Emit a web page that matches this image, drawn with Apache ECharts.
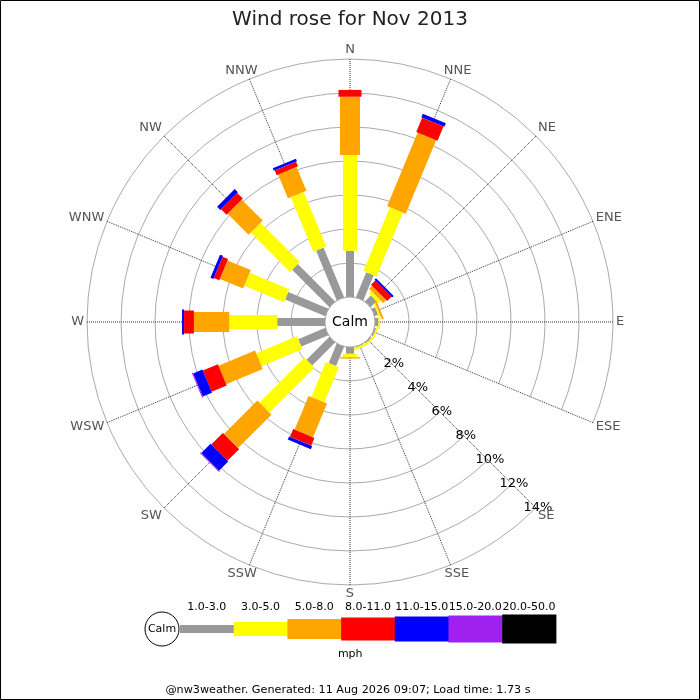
<!DOCTYPE html>
<html>
<head>
<meta charset="utf-8">
<script src="https://cdn.jsdelivr.net/npm/echarts@6/dist/echarts.min.js"></script>
<style>
html,body{margin:0;padding:0;background:#fff}
#c{width:700px;height:700px}
</style>
</head>
<body>
<div id="c"></div>
<script>
// ---- data ----
const titleText = 'Wind rose for Nov 2013';
const footerText = '@nw3weather. Generated: 11 Aug 2026 09:07; Load time: 1.73 s';
const directions = ['N','NNE','NE','ENE','E','ESE','SE','SSE','S','SSW','SW','WSW','W','WNW','NW','NNW'];
const speedClasses = ['1.0-3.0','3.0-5.0','5.0-8.0','8.0-11.0','11.0-15.0','15.0-20.0','20.0-50.0'];
const speedUnit = 'mph';
const calmLabel = 'Calm';
const pctMin = 0, pctMax = 14, pctStep = 2;   // radial tick labels 2%..14%

// percentage of time per direction for each speed class (order as directions)
const pct_1_3   = [2.72,1.60,0.50,0.22,0.20,0.10,0.08,0.05,0.40,1.24,1.91,1.73,2.81,2.56,3.11,3.17];
const pct_3_5   = [5.63,4.07,0.20,0.10,0.10,0.10,0.10,0.12,0.20,2.24,3.74,2.60,2.82,2.53,3.27,3.48];
const pct_5_8   = [3.43,4.68,0.25,0.12,0.00,0.00,0.00,0.00,0.08,2.15,2.78,2.33,2.08,1.48,1.74,1.51];
const pct_8_11  = [0.40,0.91,0.35,0.00,0.00,0.00,0.00,0.00,0.00,0.49,0.97,0.96,0.58,0.35,0.47,0.30];
const pct_11_15 = [0.00,0.23,0.13,0.00,0.00,0.00,0.00,0.00,0.00,0.20,0.76,0.59,0.12,0.19,0.26,0.16];
const pct_15_20 = [0.00,0.00,0.00,0.00,0.00,0.00,0.00,0.00,0.00,0.00,0.06,0.06,0.00,0.00,0.00,0.00];
const pct_20_50 = [0,0,0,0,0,0,0,0,0,0,0,0,0,0,0,0];
const classSeries = [pct_1_3,pct_3_5,pct_5_8,pct_8_11,pct_11_15,pct_15_20,pct_20_50];

// ---- styles ----
const classColors = ['#999999','#ffff00','#ffa500','#ff0000','#0000ff','#a020f0','#000000'];
const classWidths = [8,14,20,23,25,27,29];
const FONT = 'DejaVu Sans, Verdana, sans-serif';
const DIR_FONT = '13px ' + FONT;

// radius axis is drawn along the first angle category, so start the ring at SE
const axisStart = directions.indexOf('SE');
const angleCats = directions.slice(axisStart).concat(directions.slice(0, axisStart));
const angleIndexOf = i => (i - axisStart + directions.length) % directions.length;

const barData = [];
directions.forEach((d, i) => {
  let cum = 0;
  classSeries.forEach((arr, c) => {
    const v = arr[i];
    if (v > 0) barData.push([angleIndexOf(i), cum, cum + v, c]);
    cum += v;
  });
});
const dirLabelData = angleCats.map((d, k) => [k, pctMax, pctMax, 0]);

const measureCtx = document.createElement('canvas').getContext('2d');
measureCtx.font = DIR_FONT;

function renderBar(params, api) {
  const a = api.value(0), s = api.value(1), e = api.value(2), c = api.value(3);
  const p0 = api.coord([s, a]);
  const p1 = api.coord([e, a]);
  const dx = p1[0] - p0[0], dy = p1[1] - p0[1];
  const len = Math.hypot(dx, dy) || 1;
  const nx = -dy / len, ny = dx / len;
  const hw = classWidths[c] / 2;
  return {
    type: 'polygon',
    shape: { points: [
      [p0[0] + nx*hw, p0[1] + ny*hw],
      [p1[0] + nx*hw, p1[1] + ny*hw],
      [p1[0] - nx*hw, p1[1] - ny*hw],
      [p0[0] - nx*hw, p0[1] - ny*hw]
    ]},
    style: { fill: classColors[c] }
  };
}

function renderDirLabel(params, api) {
  const cs = params.coordSys;
  const k = api.value(0);
  const name = angleCats[k];
  const p = api.coord([pctMax, k]);
  const dx = p[0] - cs.cx, dy = p[1] - cs.cy;
  const len = Math.hypot(dx, dy) || 1;
  const ux = dx / len, uy = dy / len;
  const m = Math.max(Math.abs(ux), Math.abs(uy));
  const sx = ux / m, sy = uy / m;
  const w = measureCtx.measureText(name).width;
  const h = 12;
  const gap = 3;
  const x = p[0] + ux * gap + sx * w / 2;
  const y = p[1] + uy * gap + sy * h / 2;
  return { type: 'text', x: x, y: y,
    style: { text: name, fill: '#555', font: DIR_FONT, align: 'center', verticalAlign: 'middle' } };
}

function renderCalm(params, api) {
  const cs = params.coordSys;
  return {
    type: 'group',
    children: [
      { type: 'circle', shape: { cx: cs.cx, cy: cs.cy, r: cs.r0 },
        style: { fill: '#fff', stroke: '#aaa', lineWidth: 1 } },
      { type: 'text', x: cs.cx, y: cs.cy,
        style: { text: calmLabel, fill: '#000', font: '14px ' + FONT, align: 'center', verticalAlign: 'middle' } }
    ]
  };
}

// ---- legend (key) ----
const legendX0 = 180, legendSegW = 53.7, legendCY = 629;
const legendEls = [];
legendEls.push({ type: 'circle', shape: { cx: 162, cy: legendCY, r: 17 },
  style: { fill: '#fff', stroke: '#000', lineWidth: 1 } });
legendEls.push({ type: 'text', x: 162, y: legendCY,
  style: { text: calmLabel, fill: '#000', font: '11px ' + FONT, align: 'center', verticalAlign: 'middle' } });
speedClasses.forEach((lab, c) => {
  const x = legendX0 + c * legendSegW;
  legendEls.push({ type: 'rect', shape: { x: x, y: legendCY - classWidths[c]/2, width: legendSegW + 0.5, height: classWidths[c] },
    style: { fill: classColors[c] } });
  legendEls.push({ type: 'text', x: x + legendSegW/2, y: 607.5,
    style: { text: lab, fill: '#000', font: '11px ' + FONT, align: 'center', verticalAlign: 'middle' } });
});
legendEls.push({ type: 'text', x: legendX0 + legendSegW * 3.17, y: 654,
  style: { text: speedUnit, fill: '#000', font: '11px ' + FONT, align: 'center', verticalAlign: 'middle' } });
legendEls.push({ type: 'text', x: 348, y: 690,
  style: { text: footerText, fill: '#000', font: '11.2px ' + FONT, align: 'center', verticalAlign: 'middle' } });
legendEls.push({ type: 'rect', shape: { x: 0.5, y: 0.5, width: 699, height: 699 },
  style: { fill: 'none', stroke: '#000', lineWidth: 1 }, z: 100 });

const chart = echarts.init(document.getElementById('c'), null, { renderer: 'canvas' });
chart.setOption({
  animation: false,
  backgroundColor: '#fff',
  title: {
    text: titleText, left: 'center', top: 5,
    textStyle: { fontFamily: FONT, fontSize: 20, fontWeight: 'normal', color: '#222' }
  },
  polar: { center: [350, 322], radius: [25, 263] },
  angleAxis: {
    type: 'category',
    data: angleCats,
    startAngle: -45,
    clockwise: true,
    boundaryGap: false,
    axisLine: { show: false },
    axisTick: { show: false },
    axisLabel: { show: false },
    splitLine: { show: true, lineStyle: { color: '#333', type: 'dotted', width: 1 } },
    splitArea: { show: false }
  },
  radiusAxis: {
    type: 'value',
    min: pctMin, max: pctMax, interval: pctStep,
    axisLine: { show: false },
    axisTick: { show: false },
    axisLabel: {
      show: true, margin: 0, align: 'center', verticalAlign: 'middle',
      padding: [4, 0, 0, 4],
      color: '#000', fontSize: 13, fontFamily: FONT,
      formatter: v => (v === 0 ? '' : v + '%')
    },
    splitLine: { show: true, lineStyle: { color: '#aaa', width: 1, type: 'solid' } },
    splitArea: { show: false }
  },
  series: [
    { type: 'custom', coordinateSystem: 'polar', data: barData, renderItem: renderBar,
      encode: { angle: 0, radius: 2 }, z: 2, silent: true },
    { type: 'custom', coordinateSystem: 'polar', data: [[0, 0, 0, 0]], renderItem: renderCalm,
      encode: { angle: 0, radius: 2 }, z: 3, silent: true },
    { type: 'custom', coordinateSystem: 'polar', data: dirLabelData, renderItem: renderDirLabel,
      encode: { angle: 0, radius: 2 }, z: 4, silent: true, clip: false }
  ],
  graphic: legendEls
});
</script>
</body>
</html>
